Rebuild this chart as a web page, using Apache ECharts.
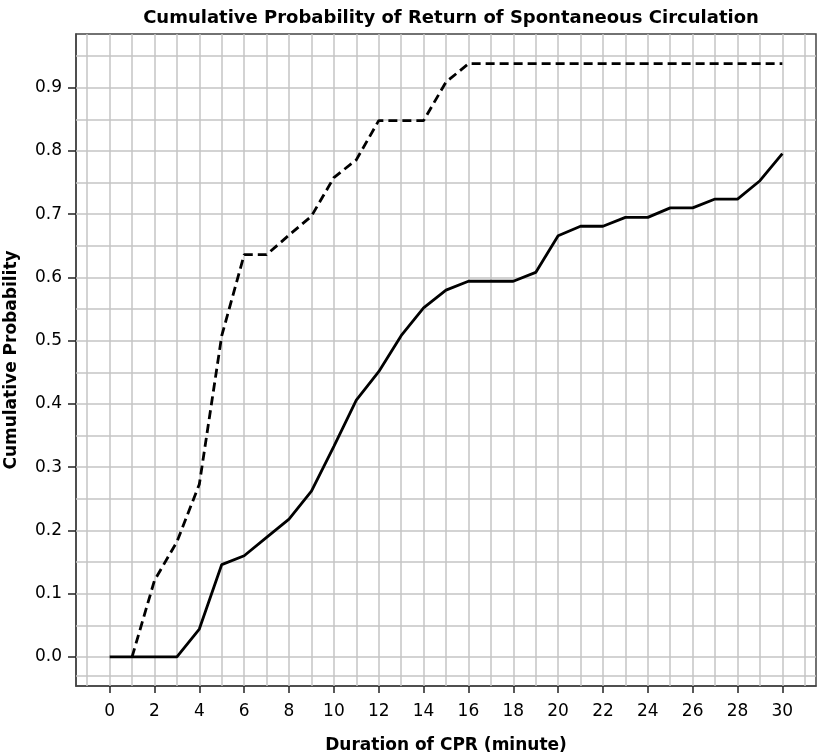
<!DOCTYPE html>
<html>
<head>
<meta charset="utf-8">
<script src="https://cdn.jsdelivr.net/npm/echarts@6/dist/echarts.min.js"></script>
<style>
html,body{margin:0;padding:0;background:#fff;}
#chart{width:817px;height:756px;}
</style>
</head>
<body>
<div id="chart"></div>
<script>
// Data
var minutes = [0,1,2,3,4,5,6,7,8,9,10,11,12,13,14,15,16,17,18,19,20,21,22,23,24,25,26,27,28,29,30];
var solidValues = [0,0,0,0,0.044,0.146,0.160,0.189,0.218,0.262,0.333,0.406,0.451,0.508,0.552,0.580,0.594,0.594,0.594,0.608,0.666,0.681,0.681,0.695,0.695,0.710,0.710,0.724,0.724,0.753,0.796];
var dashedMinutes = [1,2,3,4,5,6,7,8,9,10,11,12,13,14,15,16,17,18,19,20,21,22,23,24,25,26,27,28,29,30];
var dashedValues = [0,0.121,0.182,0.273,0.508,0.636,0.636,0.667,0.697,0.758,0.786,0.848,0.848,0.848,0.909,0.938,0.938,0.938,0.938,0.938,0.938,0.938,0.938,0.938,0.938,0.938,0.938,0.938,0.938,0.938];
var xTickLabels = [0,2,4,6,8,10,12,14,16,18,20,22,24,26,28,30];
var yTickLabels = [0,0.1,0.2,0.3,0.4,0.5,0.6,0.7,0.8,0.9];
var xGrid = [-1,0,1,2,3,4,5,6,7,8,9,10,11,12,13,14,15,16,17,18,19,20,21,22,23,24,25,26,27,28,29,30,31];
var yGrid = [-0.025,0,0.05,0.1,0.15,0.2,0.25,0.3,0.35,0.4,0.45,0.5,0.55,0.6,0.65,0.7,0.75,0.8,0.85,0.9,0.95];

var chart = echarts.init(document.getElementById('chart'), null, {renderer:'canvas'});
var FONT = 'DejaVu Sans, Liberation Sans, sans-serif';
var gridMarks = xGrid.map(function(v){return {xAxis:v};}).concat(yGrid.map(function(v){return {yAxis:v};}));

var option = {
  animation:false,
  backgroundColor:'#ffffff',
  title:{
    text:'Cumulative Probability of Return of Spontaneous Circulation',
    left:446, top:4, textAlign:'center',
    textStyle:{fontFamily:FONT,fontSize:18,fontWeight:'bold',color:'#000'}
  },
  grid:{left:76,right:1,top:34,bottom:70,containLabel:false,outerBoundsMode:'none',show:true,borderColor:'#444',borderWidth:1.5,backgroundColor:'transparent'},
  xAxis:{
    type:'value',min:-1.5,max:31.5,
    name:'Duration of CPR (minute)',nameLocation:'middle',nameGap:51,
    nameTextStyle:{fontFamily:FONT,fontSize:17,fontWeight:'bold',color:'#000'},
    axisLine:{show:true,onZero:false,lineStyle:{color:'#444',width:1.5}},
    axisTick:{show:true,length:7,customValues:xTickLabels,lineStyle:{color:'#222',width:1.5}},
    axisLabel:{customValues:xTickLabels,margin:17,fontFamily:FONT,fontSize:17,color:'#000'},
    splitLine:{show:false}
  },
  yAxis:{
    type:'value',min:-0.046,max:0.985,
    name:'Cumulative Probability',nameLocation:'middle',nameGap:56,nameRotate:90,
    nameTextStyle:{fontFamily:FONT,fontSize:17,fontWeight:'bold',color:'#000'},
    axisLine:{show:true,onZero:false,lineStyle:{color:'#444',width:1.5}},
    axisTick:{show:true,length:8,customValues:yTickLabels,lineStyle:{color:'#222',width:1.5}},
    axisLabel:{customValues:yTickLabels,margin:14,fontFamily:FONT,fontSize:17,color:'#000',
      formatter:function(v){return v.toFixed(1);}},
    splitLine:{show:false}
  },
  series:[
    {
      type:'line',data:[],z:1,silent:true,
      markLine:{silent:true,z:1,symbol:['none','none'],label:{show:false},animation:false,
        lineStyle:{color:'#c4c4c4',width:1.5,type:'solid'},emphasis:{disabled:true},
        data:gridMarks}
    },
    {
      type:'line',name:'dashed',z:3,symbol:'none',
      data:dashedMinutes.map(function(m,i){return [m,dashedValues[i]];}),
      lineStyle:{color:'#000',width:2.8,type:[9,5]}
    },
    {
      type:'line',name:'solid',z:4,symbol:'none',
      data:minutes.map(function(m,i){return [m,solidValues[i]];}),
      lineStyle:{color:'#000',width:2.8,type:'solid'}
    }
  ]
};
chart.setOption(option);
</script>
</body>
</html>
